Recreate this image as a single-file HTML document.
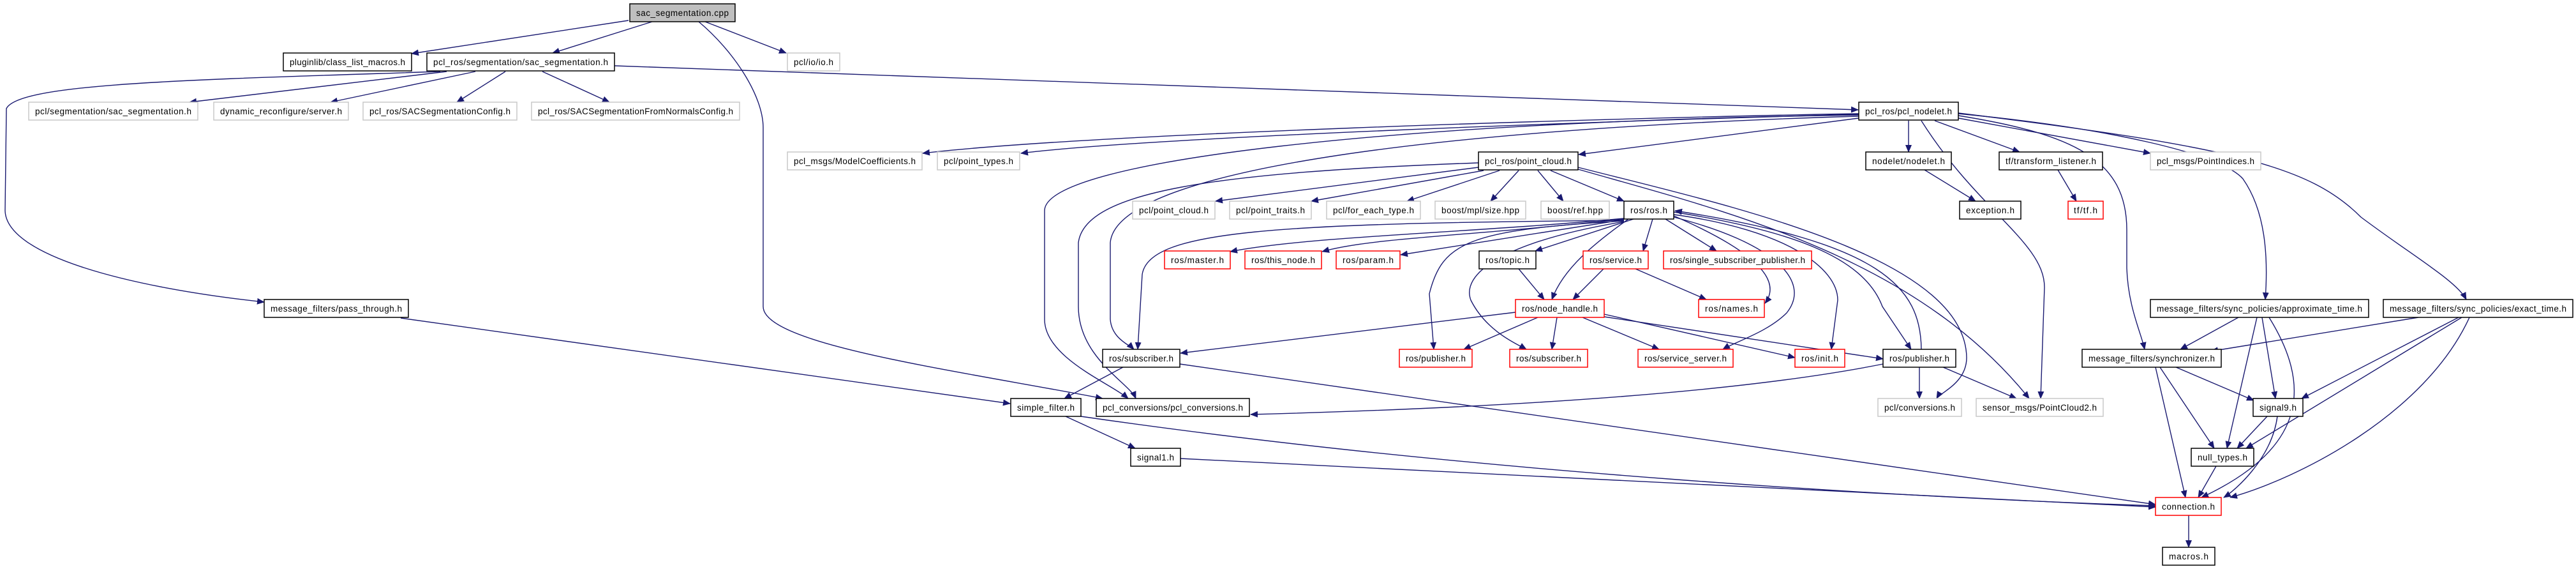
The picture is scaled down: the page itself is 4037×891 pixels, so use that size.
<!DOCTYPE html>
<html><head><meta charset="utf-8"><style>
html,body{margin:0;padding:0;background:#fff;}
svg{display:block;}
text{font-family:"Liberation Sans",sans-serif;font-size:13.5px;fill:#000;}
.e{fill:none;stroke:#191970;stroke-width:1.4;marker-end:url(#a);}
.k{fill:#fff;stroke:#000;stroke-width:1.5;}
.g{fill:#fff;stroke:#c8c8c8;stroke-width:1.5;}
.r{fill:#fff;stroke:#ff0000;stroke-width:1.5;}
.c{fill:#bfbfbf;stroke:#000;stroke-width:1.5;}
</style></head><body>
<svg width="4037" height="891" viewBox="0 0 4037 891" xmlns="http://www.w3.org/2000/svg">
<defs><marker id="a" markerUnits="userSpaceOnUse" markerWidth="12" markerHeight="10" refX="11" refY="5" orient="auto"><path d="M0,0 L12,5 L0,10 z" fill="#191970"/></marker></defs>
<g>
<path class="e" d="M985,32 L645,84"/>
<path class="e" d="M1022,34 L866,83"/>
<path class="e" d="M1105,34 L1232,83"/>
<path class="e" d="M1095,34 C1150,80 1196,150 1196,200 L1196,480 C1196,540 1500,580 1728,624"/>
<path class="e" d="M690,112 C300,125 30,130 10,170 L8,330 C10,400 200,450 414,473"/>
<path class="e" d="M700,112 L297,160"/>
<path class="e" d="M745,112 L518,160"/>
<path class="e" d="M792,112 L716,160"/>
<path class="e" d="M850,112 L955,160"/>
<path class="e" d="M963,103 L2912,172"/>
<path class="e" d="M2913,178 C2500,185 1700,210 1446,240"/>
<path class="e" d="M2913,179 C2500,190 1800,215 1600,240"/>
<path class="e" d="M2913,180 C2200,190 1637,250 1637,330 L1637,500 C1637,560 1740,600 1768,624"/>
<path class="e" d="M2317,255 C1900,270 1700,300 1690,380 L1690,480 C1690,560 1770,600 1780,624"/>
<path class="e" d="M2913,182 C2300,200 1750,260 1740,380 L1740,500 C1742,530 1770,540 1777,547"/>
<path class="e" d="M2913,185 L2474,242"/>
<path class="e" d="M2545,345 C2000,350 1800,360 1790,430 L1783,547"/>
<path class="e" d="M2317,262 L1905,315"/>
<path class="e" d="M2325,267 L2055,315"/>
<path class="e" d="M2350,267 L2205,315"/>
<path class="e" d="M2380,267 L2336,315"/>
<path class="e" d="M2410,267 L2450,315"/>
<path class="e" d="M2430,267 L2545,315"/>
<path class="e" d="M2473,262 C2700,320 3080,400 3082,560 C3082,600 3040,615 3035,624"/>
<path class="e" d="M2473,265 C2700,330 3000,400 3180,624"/>
<path class="e" d="M3011,189 C3100,330 3204,380 3204,450 L3198,624"/>
<path class="e" d="M2991,189 L2991,238"/>
<path class="e" d="M3032,189 L3165,238"/>
<path class="e" d="M3069,185 L3370,240"/>
<path class="e" d="M3016,266 L3096,315"/>
<path class="e" d="M3225,266 L3254,315"/>
<path class="e" d="M3069,181 C3250,210 3333,250 3333,360 L3333,420 C3335,480 3355,520 3361,547"/>
<path class="e" d="M3069,178 C3300,200 3480,240 3515,280 C3550,330 3555,400 3550,469"/>
<path class="e" d="M3069,177 C3500,230 3620,260 3700,340 C3780,400 3850,440 3865,469"/>
<path class="e" d="M2545,342 C2300,365 2050,370 1928,394"/>
<path class="e" d="M2545,343 C2300,370 2150,372 2072,394"/>
<path class="e" d="M2545,344 L2195,399"/>
<path class="e" d="M2560,343 L2406,393"/>
<path class="e" d="M2590,343 L2575,393"/>
<path class="e" d="M2610,343 L2690,393"/>
<path class="e" d="M2552,343 C2500,380 2450,420 2432,469"/>
<path class="e" d="M2380,421 L2420,469"/>
<path class="e" d="M2513,421 L2465,469"/>
<path class="e" d="M2563,421 L2674,469"/>
<path class="e" d="M2545,346 C2300,360 2260,380 2240,460 L2247,547"/>
<path class="e" d="M2545,347 C2350,380 2290,430 2305,470 C2330,520 2380,540 2392,547"/>
<path class="e" d="M2623,340 C2780,380 2840,440 2800,490 C2770,520 2720,535 2700,547"/>
<path class="e" d="M2623,338 C2720,380 2800,430 2766,475"/>
<path class="e" d="M2623,336 C2800,360 2880,420 2880,470 L2870,547"/>
<path class="e" d="M2623,332 C2800,360 2920,400 2950,480 L2995,547"/>
<path class="e" d="M3011,547 C3010,450 2950,380 2625,330"/>
<path class="e" d="M2375,489 L1850,553"/>
<path class="e" d="M2410,497 L2294,547"/>
<path class="e" d="M2440,497 L2432,547"/>
<path class="e" d="M2480,497 L2600,547"/>
<path class="e" d="M2514,492 L2813,560"/>
<path class="e" d="M2514,496 L2951,562"/>
<path class="e" d="M2951,570 C2700,620 2300,640 1960,649"/>
<path class="e" d="M3008,575 L3008,624"/>
<path class="e" d="M3045,575 L3160,624"/>
<path class="e" d="M1760,575 L1668,624"/>
<path class="e" d="M1849,570 L3378,790"/>
<path class="e" d="M628,498 L1583,632"/>
<path class="e" d="M1670,652 L1779,702"/>
<path class="e" d="M1694,652 C2300,740 3000,780 3378,792"/>
<path class="e" d="M1850,718 L3378,794"/>
<path class="e" d="M3378,575 L3425,779"/>
<path class="e" d="M3385,575 L3470,702"/>
<path class="e" d="M3410,575 L3532,627"/>
<path class="e" d="M3508,497 L3417,547"/>
<path class="e" d="M3537,497 L3490,702"/>
<path class="e" d="M3545,497 L3566,624"/>
<path class="e" d="M3556,497 C3620,600 3620,700 3450,779"/>
<path class="e" d="M3790,497 L3465,550"/>
<path class="e" d="M3853,497 L3607,624"/>
<path class="e" d="M3858,497 L3520,702"/>
<path class="e" d="M3870,497 C3800,650 3600,750 3495,779"/>
<path class="e" d="M3553,652 L3506,702"/>
<path class="e" d="M3569,652 C3560,720 3500,770 3485,779"/>
<path class="e" d="M3473,730 L3445,779"/>
<path class="e" d="M3430,807 L3430,857"/>
</g>
<g>
<rect class="c" x="987" y="6" width="165" height="28"/><text x="997" y="25" textLength="145">sac_segmentation.cpp</text>
<rect class="k" x="444" y="83" width="201" height="28"/><text x="454" y="102" textLength="181">pluginlib/class_list_macros.h</text>
<rect class="k" x="669" y="83" width="294" height="28"/><text x="679" y="102" textLength="274">pcl_ros/segmentation/sac_segmentation.h</text>
<rect class="g" x="1234" y="83" width="82" height="28"/><text x="1244" y="102" textLength="62">pcl/io/io.h</text>
<rect class="g" x="45" y="160" width="265" height="28"/><text x="55" y="179" textLength="245">pcl/segmentation/sac_segmentation.h</text>
<rect class="g" x="335" y="160" width="211" height="28"/><text x="345" y="179" textLength="191">dynamic_reconfigure/server.h</text>
<rect class="g" x="569" y="160" width="241" height="28"/><text x="579" y="179" textLength="221">pcl_ros/SACSegmentationConfig.h</text>
<rect class="g" x="833" y="160" width="326" height="28"/><text x="843" y="179" textLength="306">pcl_ros/SACSegmentationFromNormalsConfig.h</text>
<rect class="k" x="2913" y="160" width="156" height="28"/><text x="2923" y="179" textLength="136">pcl_ros/pcl_nodelet.h</text>
<rect class="g" x="1234" y="238" width="211" height="28"/><text x="1244" y="257" textLength="191">pcl_msgs/ModelCoefficients.h</text>
<rect class="g" x="1469" y="238" width="129" height="28"/><text x="1479" y="257" textLength="109">pcl/point_types.h</text>
<rect class="k" x="2317" y="238" width="156" height="28"/><text x="2327" y="257" textLength="136">pcl_ros/point_cloud.h</text>
<rect class="k" x="2924" y="238" width="134" height="28"/><text x="2934" y="257" textLength="114">nodelet/nodelet.h</text>
<rect class="k" x="3133" y="238" width="162" height="28"/><text x="3143" y="257" textLength="142">tf/transform_listener.h</text>
<rect class="g" x="3370" y="238" width="173" height="28"/><text x="3380" y="257" textLength="153">pcl_msgs/PointIndices.h</text>
<rect class="g" x="1775" y="315" width="129" height="28"/><text x="1785" y="334" textLength="109">pcl/point_cloud.h</text>
<rect class="g" x="1927" y="315" width="128" height="28"/><text x="1937" y="334" textLength="108">pcl/point_traits.h</text>
<rect class="g" x="2079" y="315" width="147" height="28"/><text x="2089" y="334" textLength="127">pcl/for_each_type.h</text>
<rect class="g" x="2249" y="315" width="142" height="28"/><text x="2259" y="334" textLength="122">boost/mpl/size.hpp</text>
<rect class="g" x="2415" y="315" width="107" height="28"/><text x="2425" y="334" textLength="87">boost/ref.hpp</text>
<rect class="k" x="2545" y="315" width="78" height="28"/><text x="2555" y="334" textLength="58">ros/ros.h</text>
<rect class="k" x="3071" y="315" width="96" height="28"/><text x="3081" y="334" textLength="76">exception.h</text>
<rect class="r" x="3241" y="315" width="55" height="28"/><text x="3250" y="334" textLength="37">tf/tf.h</text>
<rect class="r" x="1825" y="393" width="103" height="28"/><text x="1835" y="412" textLength="83">ros/master.h</text>
<rect class="r" x="1951" y="393" width="120" height="28"/><text x="1961" y="412" textLength="100">ros/this_node.h</text>
<rect class="r" x="2094" y="393" width="100" height="28"/><text x="2104" y="412" textLength="80">ros/param.h</text>
<rect class="k" x="2318" y="393" width="89" height="28"/><text x="2328" y="412" textLength="69">ros/topic.h</text>
<rect class="r" x="2481" y="393" width="102" height="28"/><text x="2491" y="412" textLength="82">ros/service.h</text>
<rect class="r" x="2607" y="393" width="232" height="28"/><text x="2617" y="412" textLength="212">ros/single_subscriber_publisher.h</text>
<rect class="k" x="414" y="469" width="226" height="28"/><text x="424" y="488" textLength="206">message_filters/pass_through.h</text>
<rect class="r" x="2375" y="469" width="139" height="28"/><text x="2385" y="488" textLength="119">ros/node_handle.h</text>
<rect class="r" x="2662" y="469" width="103" height="28"/><text x="2672" y="488" textLength="83">ros/names.h</text>
<rect class="k" x="3370" y="469" width="342" height="28"/><text x="3380" y="488" textLength="322">message_filters/sync_policies/approximate_time.h</text>
<rect class="k" x="3735" y="469" width="297" height="28"/><text x="3745" y="488" textLength="277">message_filters/sync_policies/exact_time.h</text>
<rect class="k" x="1728" y="547" width="121" height="28"/><text x="1738" y="566" textLength="101">ros/subscriber.h</text>
<rect class="r" x="2193" y="547" width="114" height="28"/><text x="2203" y="566" textLength="94">ros/publisher.h</text>
<rect class="r" x="2366" y="547" width="122" height="28"/><text x="2376" y="566" textLength="102">ros/subscriber.h</text>
<rect class="r" x="2567" y="547" width="149" height="28"/><text x="2577" y="566" textLength="129">ros/service_server.h</text>
<rect class="r" x="2813" y="547" width="78" height="28"/><text x="2823" y="566" textLength="58">ros/init.h</text>
<rect class="k" x="2951" y="547" width="114" height="28"/><text x="2961" y="566" textLength="94">ros/publisher.h</text>
<rect class="k" x="3263" y="547" width="218" height="28"/><text x="3273" y="566" textLength="198">message_filters/synchronizer.h</text>
<rect class="k" x="1584" y="624" width="110" height="28"/><text x="1594" y="643" textLength="90">simple_filter.h</text>
<rect class="k" x="1718" y="624" width="240" height="28"/><text x="1728" y="643" textLength="220">pcl_conversions/pcl_conversions.h</text>
<rect class="g" x="2943" y="624" width="131" height="28"/><text x="2953" y="643" textLength="111">pcl/conversions.h</text>
<rect class="g" x="3097" y="624" width="199" height="28"/><text x="3107" y="643" textLength="179">sensor_msgs/PointCloud2.h</text>
<rect class="k" x="3531" y="624" width="78" height="28"/><text x="3541" y="643" textLength="58">signal9.h</text>
<rect class="k" x="1772" y="702" width="78" height="28"/><text x="1782" y="721" textLength="58">signal1.h</text>
<rect class="k" x="3434" y="702" width="98" height="28"/><text x="3444" y="721" textLength="78">null_types.h</text>
<rect class="r" x="3378" y="779" width="103" height="28"/><text x="3388" y="798" textLength="83">connection.h</text>
<rect class="k" x="3389" y="857" width="82" height="28"/><text x="3399" y="876" textLength="62">macros.h</text>
</g>
</svg>
</body></html>
